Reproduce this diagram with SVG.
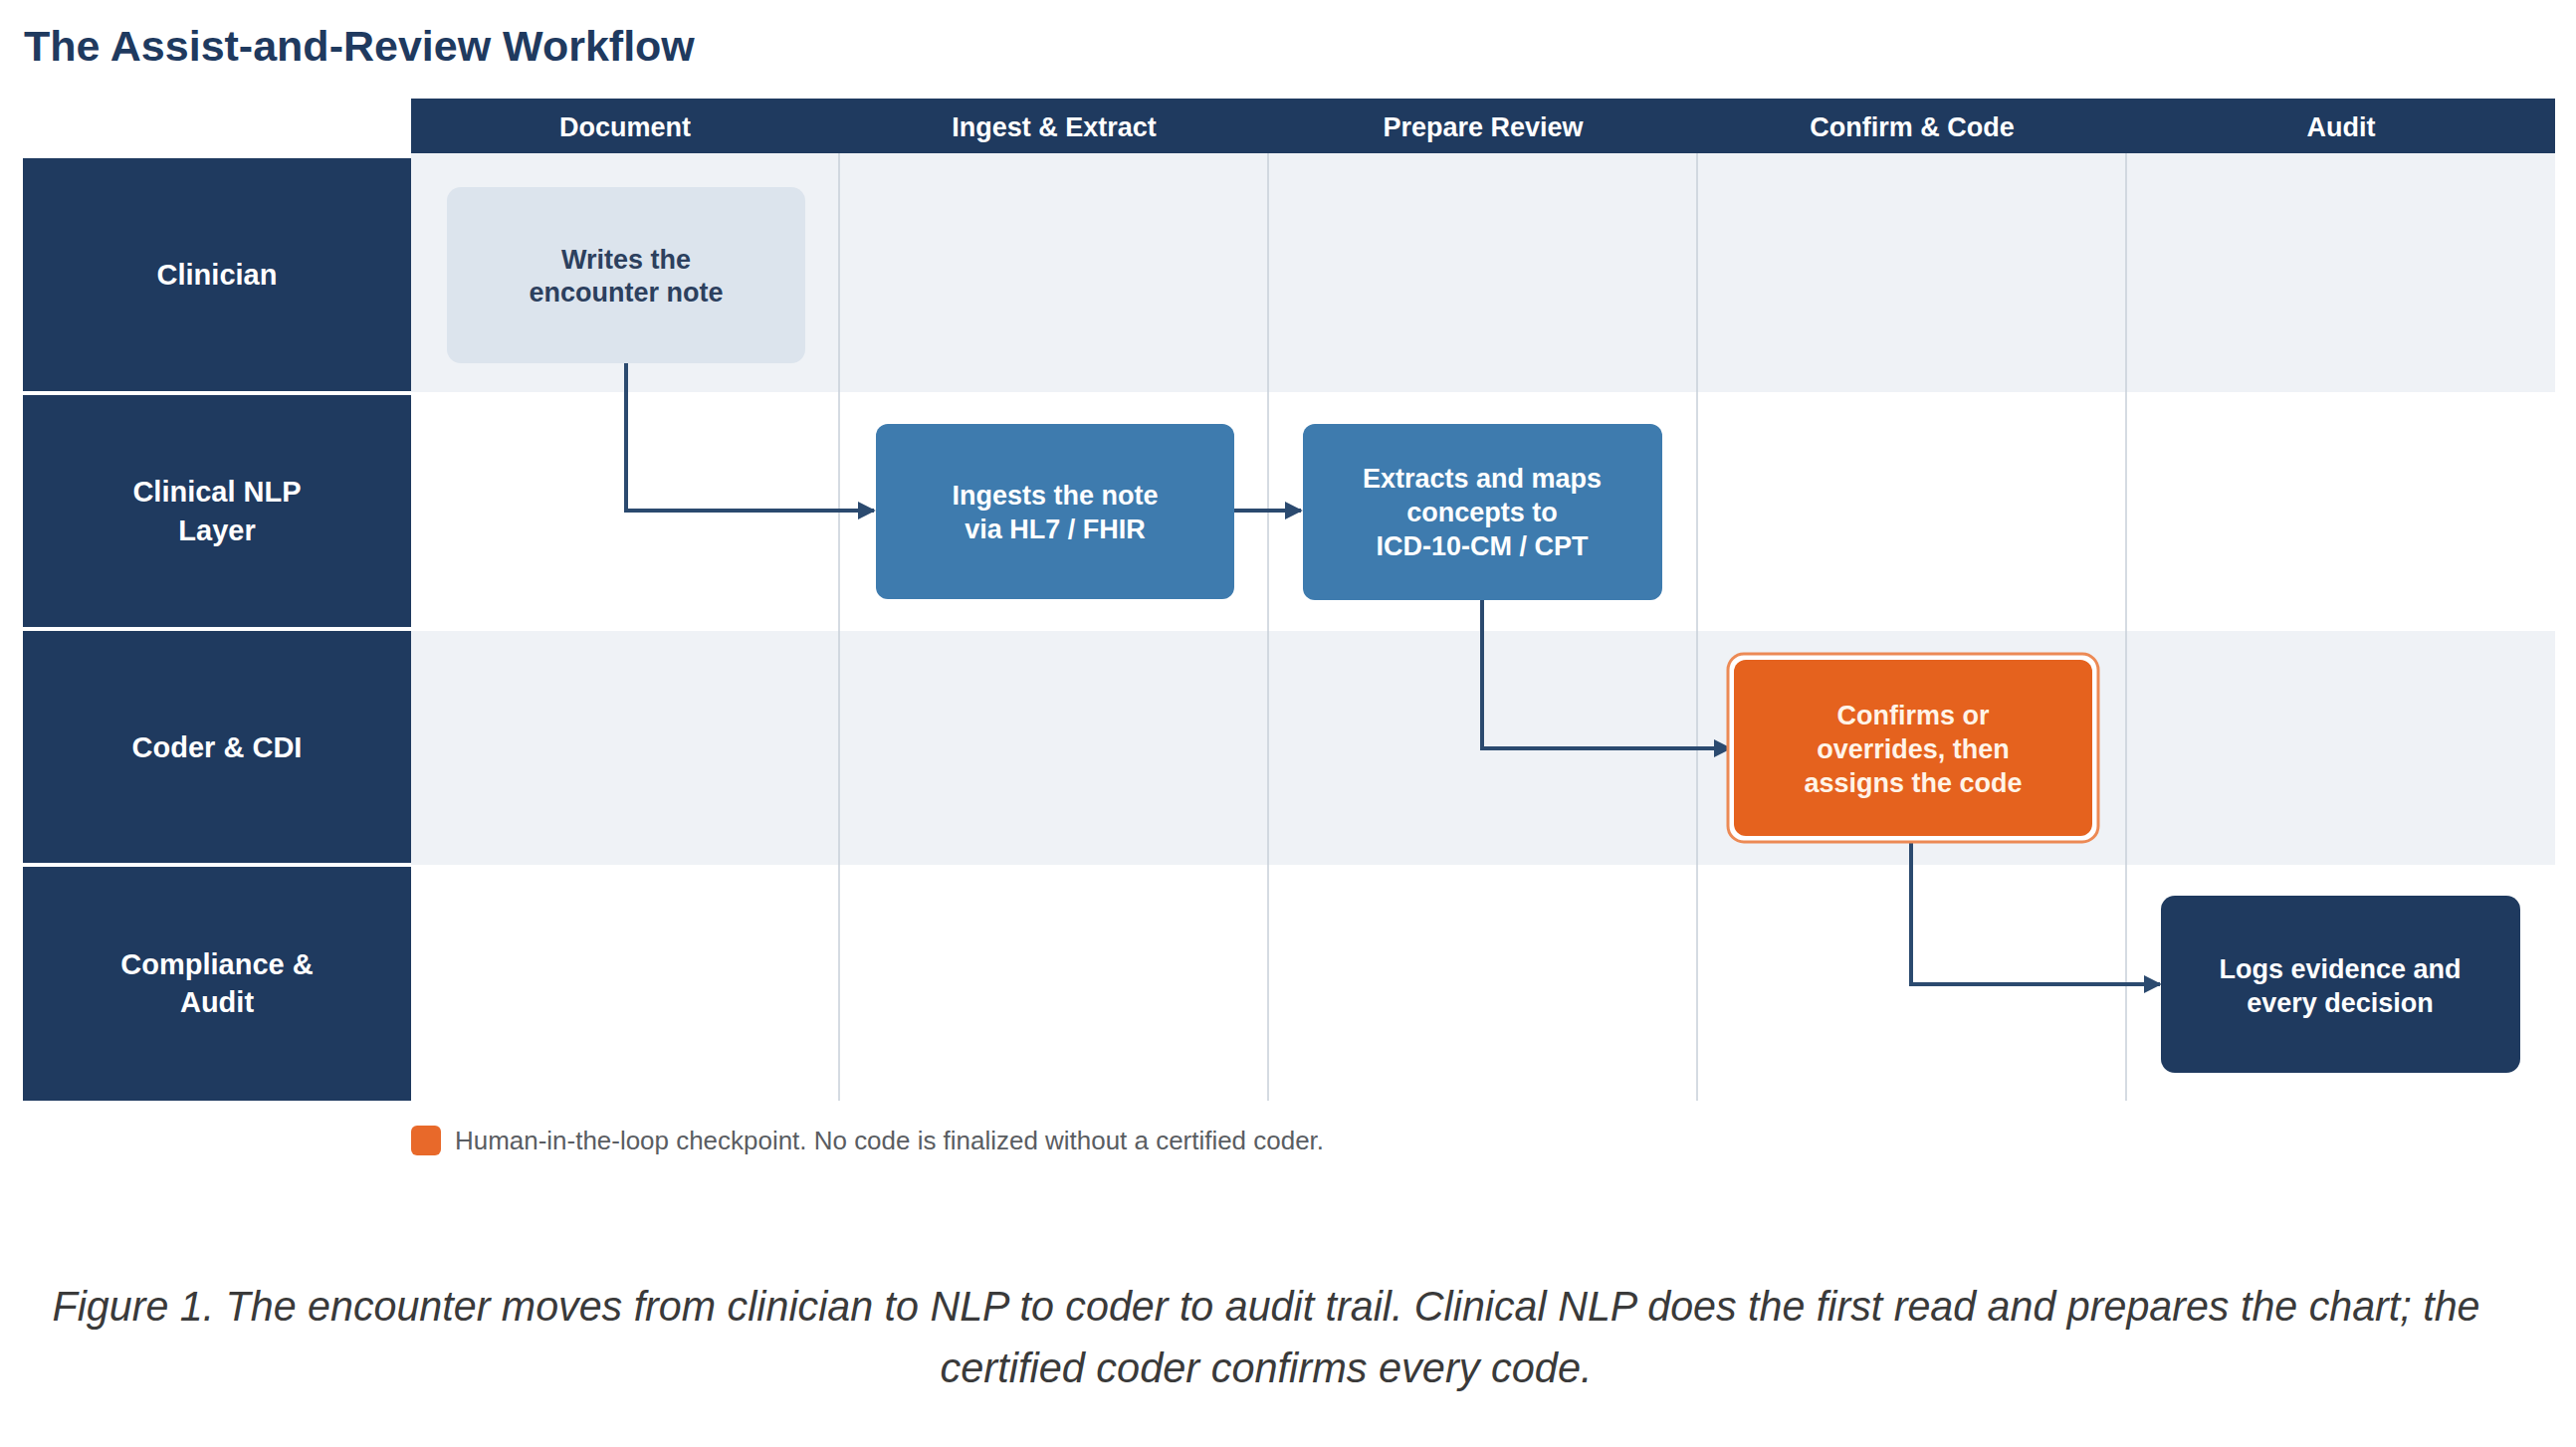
<svg xmlns="http://www.w3.org/2000/svg" width="2588" height="1454" viewBox="0 0 2588 1454">
<style>
.title{font-family:"Liberation Sans",Arial,sans-serif;font-weight:bold;font-size:43px;fill:#1f3a5f}
.hdr{font-family:"Liberation Sans",Arial,sans-serif;font-weight:bold;font-size:27px;fill:#ffffff;text-anchor:middle}
.lane{font-family:"Liberation Sans",Arial,sans-serif;font-weight:bold;font-size:29px;fill:#ffffff;text-anchor:middle}
.nt{font-family:"Liberation Sans",Arial,sans-serif;font-weight:bold;font-size:27px;text-anchor:middle}
.legend{font-family:"Liberation Sans",Arial,sans-serif;font-size:25px;fill:#5a5d62}
.cap{font-family:"Liberation Sans",Arial,sans-serif;font-style:italic;font-size:42px;fill:#3a3a3a;text-anchor:middle}
.grid{stroke:#c7cfd9;stroke-width:1.5}
.conn{fill:none;stroke:#2b4a6f;stroke-width:4}
</style>
<defs>
<marker id="arrow" viewBox="0 0 10 10" refX="9" refY="5" markerWidth="4.5" markerHeight="4.5" orient="auto" markerUnits="strokeWidth">
<path d="M0,0 L10,5 L0,10 z" fill="#2b4a6f"/>
</marker>
</defs>
<rect width="2588" height="1454" fill="#ffffff"/>
<text class="title" x="24" y="61">The Assist-and-Review Workflow</text>

<g id="lanes-bg">
<rect x="413" y="154" width="2154" height="240" fill="#eff2f6"/>
<rect x="413" y="394" width="2154" height="240" fill="#ffffff"/>
<rect x="413" y="634" width="2154" height="235" fill="#eff2f6"/>
<rect x="413" y="869" width="2154" height="237" fill="#ffffff"/>
<line class="grid" x1="843" y1="154" x2="843" y2="1106"/>
<line class="grid" x1="1274" y1="154" x2="1274" y2="1106"/>
<line class="grid" x1="1705" y1="154" x2="1705" y2="1106"/>
<line class="grid" x1="2136" y1="154" x2="2136" y2="1106"/>
</g>

<g id="header">
<rect x="413" y="99" width="2154" height="55" fill="#1f3a5f"/>
<text class="hdr" x="628" y="137">Document</text>
<text class="hdr" x="1059" y="137">Ingest &amp; Extract</text>
<text class="hdr" x="1490" y="137">Prepare Review</text>
<text class="hdr" x="1921" y="137">Confirm &amp; Code</text>
<text class="hdr" x="2352" y="137">Audit</text>
</g>

<g id="lane-clinician">
<rect x="23" y="159" width="390" height="234" fill="#1f3a5f"/>
<text class="lane" x="218" y="286">Clinician</text>
</g>
<g id="lane-nlp">
<rect x="23" y="397" width="390" height="233" fill="#1f3a5f"/>
<text class="lane" x="218" y="504">Clinical NLP</text>
<text class="lane" x="218" y="543">Layer</text>
</g>
<g id="lane-coder">
<rect x="23" y="634" width="390" height="233" fill="#1f3a5f"/>
<text class="lane" x="218" y="761">Coder &amp; CDI</text>
</g>
<g id="lane-compliance">
<rect x="23" y="871" width="390" height="235" fill="#1f3a5f"/>
<text class="lane" x="218" y="979">Compliance &amp;</text>
<text class="lane" x="218" y="1017">Audit</text>
</g>

<g id="connectors">
<path class="conn" d="M629,365 L629,513 L878,513" marker-end="url(#arrow)"/>
<path class="conn" d="M1240,513 L1307,513" marker-end="url(#arrow)"/>
<path class="conn" d="M1489,603 L1489,752 L1738,752" marker-end="url(#arrow)"/>
<path class="conn" d="M1920,846 L1920,989 L2170,989" marker-end="url(#arrow)"/>
</g>

<g id="node-write">
<rect x="449" y="188" width="360" height="177" rx="14" fill="#dce4ed"/>
<text class="nt" fill="#2c405e" x="629" y="270">Writes the</text>
<text class="nt" fill="#2c405e" x="629" y="303">encounter note</text>
</g>
<g id="node-ingest">
<rect x="880" y="426" width="360" height="176" rx="12" fill="#3e7bae"/>
<text class="nt" fill="#ffffff" x="1060" y="507">Ingests the note</text>
<text class="nt" fill="#ffffff" x="1060" y="541">via HL7 / FHIR</text>
</g>
<g id="node-extract">
<rect x="1309" y="426" width="361" height="177" rx="12" fill="#3e7bae"/>
<text class="nt" fill="#ffffff" x="1489" y="490">Extracts and maps</text>
<text class="nt" fill="#ffffff" x="1489" y="524">concepts to</text>
<text class="nt" fill="#ffffff" x="1489" y="558">ICD-10-CM / CPT</text>
</g>
<g id="node-confirm">
<rect x="1736" y="657" width="372" height="189" rx="16" fill="#ffffff" stroke="#ec8a55" stroke-width="3"/>
<rect x="1742" y="663" width="360" height="177" rx="12" fill="#e5621e"/>
<text class="nt" fill="#fff4e8" x="1922" y="728">Confirms or</text>
<text class="nt" fill="#fff4e8" x="1922" y="762">overrides, then</text>
<text class="nt" fill="#fff4e8" x="1922" y="796">assigns the code</text>
</g>
<g id="node-logs">
<rect x="2171" y="900" width="361" height="178" rx="14" fill="#1f3a5f"/>
<text class="nt" fill="#ffffff" x="2351" y="983">Logs evidence and</text>
<text class="nt" fill="#ffffff" x="2351" y="1017">every decision</text>
</g>

<g id="legend">
<rect x="413" y="1131" width="30" height="30" rx="6" fill="#e8692a"/>
<text class="legend" x="457" y="1155" textLength="873" lengthAdjust="spacingAndGlyphs">Human-in-the-loop checkpoint. No code is finalized without a certified coder.</text>
</g>

<g id="caption">
<text class="cap" x="1272" y="1327" textLength="2439" lengthAdjust="spacingAndGlyphs">Figure 1. The encounter moves from clinician to NLP to coder to audit trail. Clinical NLP does the first read and prepares the chart; the</text>
<text class="cap" x="1272" y="1389" textLength="655" lengthAdjust="spacingAndGlyphs">certified coder confirms every code.</text>
</g>
</svg>
